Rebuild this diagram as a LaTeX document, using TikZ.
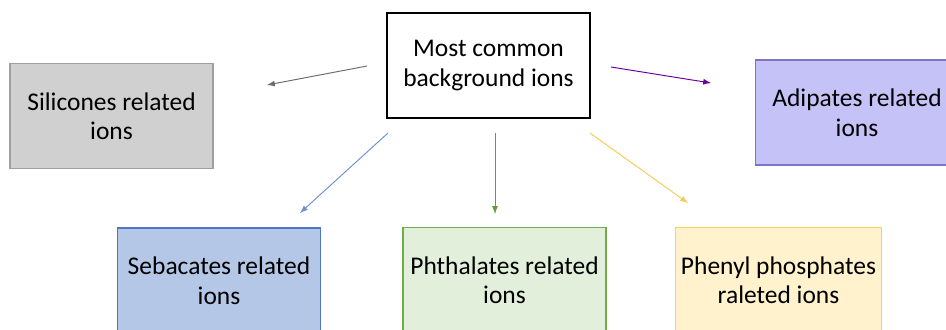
\documentclass[tikz,border=0pt]{standalone}
\usepackage{fontspec}
\setmainfont{Carlito}
\usepackage{xcolor}
\usepackage{tikz}
\usetikzlibrary{arrows,calc,positioning}
\definecolor{silfill}{HTML}{D0D0D0}
\definecolor{silline}{HTML}{A0A0A0}
\definecolor{adifill}{HTML}{C5C2F7}
\definecolor{adiline}{HTML}{7F72C9}
\definecolor{sebfill}{HTML}{B4C7E7}
\definecolor{sebline}{HTML}{4F76C4}
\definecolor{phtfill}{HTML}{E2EFDA}
\definecolor{phtline}{HTML}{70AD47}
\definecolor{phefill}{HTML}{FFF2CC}
\definecolor{pheline}{HTML}{F2D35E}
\tikzset{%
	mainbox/.style = {draw, rectangle, line width=1pt, minimum width=4.06cm, minimum height=2.1cm, text centered, align=center, font=\fontsize{14.5}{16.8}\selectfont},
	ionbox/.style  = {draw, rectangle, line width=0.6pt, minimum width=4.06cm, minimum height=2.1cm, text centered, align=center, font=\fontsize{14.5}{16.8}\selectfont},
	arrow/.style   = {line width=0.55pt,-latex},
}
\begin{document}
\begin{tikzpicture}[x=0.02cm,y=-0.02cm]
	\useasboundingbox (0,0) rectangle (946,329);
	\clip (0,0) rectangle (946,329);
	
	\node[mainbox] (common) at (488.5,65.5) {Most common\\background ions};
	\node[ionbox, fill=silfill, draw=silline] (silicones) at (111.5,116) {Silicones related\\ions};
	\node[ionbox, fill=adifill, draw=adiline] (adipates) at (857,112.5) {Adipates related\\ions};
	\node[ionbox, fill=sebfill, draw=sebline] (sebacates) at (219,280.5) {Sebacates related\\ions};
	\node[ionbox, fill=phtfill, draw=phtline] (phthalates) at (504.5,280) {Phthalates related\\ions};
	\node[ionbox, fill=phefill, draw=pheline] (phenyl) at (778.5,280) {Phenyl phosphates\\raleted ions};
	
	% arrow ends
	\coordinate (silA) at (367,66);  \coordinate (silB) at (267,85);
	\coordinate (adiA) at (611,67);  \coordinate (adiB) at (711,83);
	\coordinate (sebA) at (388,133); \coordinate (sebB) at (300,213);
	\coordinate (phtA) at (495,133); \coordinate (phtB) at (495,214);
	\coordinate (pheA) at (590,133); \coordinate (pheB) at (688,203);
	
	\draw[arrow, color=gray!85!black] (silA) -- (silB);
	\draw[arrow, color=violet!80!blue] (adiA) -- (adiB);
	\draw[arrow, color=sebline!80] (sebA) -- (sebB);
	\draw[arrow, color=phtline!90!black] (phtA) -- (phtB);
	\draw[arrow, color=pheline!90!orange] (pheA) -- (pheB);
\end{tikzpicture}
\end{document}
